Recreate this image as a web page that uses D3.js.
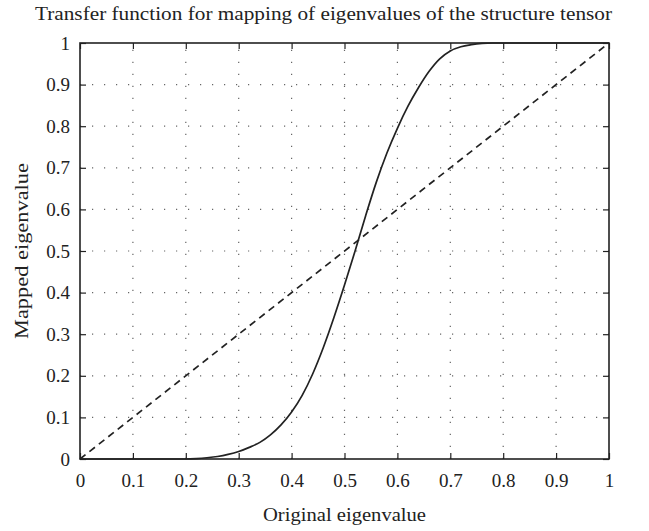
<!DOCTYPE html>
<html>
<head>
<meta charset="utf-8">
<script src="https://cdn.jsdelivr.net/npm/d3@7.9.0/dist/d3.min.js"></script>
<style>
  body { margin: 0; background: #fff; }
  text { font-family: "Liberation Serif", "DejaVu Serif", serif; fill: #222; }
</style>
</head>
<body>
<svg id="chart" width="649" height="531"></svg>
<script>
// values
const ticks = [0, 0.1, 0.2, 0.3, 0.4, 0.5, 0.6, 0.7, 0.8, 0.9, 1];
const tickLabels = ['0', '0.1', '0.2', '0.3', '0.4', '0.5', '0.6', '0.7', '0.8', '0.9', '1'];

const curveX = [0, 0.1, 0.2, 0.22, 0.24, 0.26, 0.28, 0.30, 0.32, 0.34, 0.36, 0.38, 0.40,
  0.42, 0.44, 0.46, 0.48, 0.50, 0.52, 0.54, 0.56, 0.58, 0.60, 0.62, 0.64, 0.66, 0.68,
  0.70, 0.72, 0.74, 0.76, 0.78, 0.80, 0.9, 1];
const curveY = [0, 0, 0, 0.001, 0.003, 0.006, 0.011, 0.018, 0.028, 0.040, 0.058, 0.082, 0.113,
  0.153, 0.205, 0.268, 0.340, 0.418, 0.500, 0.585, 0.665, 0.735, 0.795, 0.848, 0.893, 0.932, 0.962,
  0.981, 0.991, 0.996, 0.999, 1, 1, 1, 1];

const identityX = [0, 1];
const identityY = [0, 1];

const svg = d3.select('#chart');
const mLeft = 80, mRight = 609, mTop = 43, mBottom = 459;

const x = d3.scaleLinear().domain([0, 1]).range([mLeft, mRight]);
const y = d3.scaleLinear().domain([0, 1]).range([mBottom, mTop]);

// dotted grid
const grid = svg.append('g')
  .attr('stroke', '#666')
  .attr('stroke-width', 1.2)
  .attr('stroke-dasharray', '1.2,10.8');
ticks.slice(1, -1).forEach((t) => {
  grid.append('line')
    .attr('x1', x(t)).attr('x2', x(t))
    .attr('y1', mBottom).attr('y2', mTop);
  grid.append('line')
    .attr('x1', mLeft).attr('x2', mRight)
    .attr('y1', y(t)).attr('y2', y(t));
});

// axes, ticks inward on all four sides
const xAxis = d3.axisBottom(x).tickValues(ticks)
  .tickFormat((d, i) => tickLabels[i]).tickSizeInner(-6).tickSizeOuter(0).tickPadding(15);
const yAxis = d3.axisLeft(y).tickValues(ticks)
  .tickFormat((d, i) => tickLabels[i]).tickSizeInner(-6).tickSizeOuter(0).tickPadding(10);

svg.append('g').attr('transform', `translate(0,${mBottom})`).call(xAxis);
svg.append('g').attr('transform', `translate(${mLeft},0)`).call(yAxis);
svg.append('g').attr('transform', `translate(0,${mTop})`)
  .call(d3.axisTop(x).tickValues(ticks).tickFormat('').tickSizeInner(-6).tickSizeOuter(0));
svg.append('g').attr('transform', `translate(${mRight},0)`)
  .call(d3.axisRight(y).tickValues(ticks).tickFormat('').tickSizeInner(-6).tickSizeOuter(0));

svg.selectAll('.domain').remove();
svg.selectAll('.tick line').attr('stroke', '#222').attr('stroke-width', 1.2);
svg.selectAll('.tick text')
  .style('font-family', '"Liberation Serif", serif')
  .style('font-size', '19px')
  .attr('fill', '#222');

svg.append('rect')
  .attr('x', mLeft).attr('y', mTop)
  .attr('width', mRight - mLeft).attr('height', mBottom - mTop)
  .attr('fill', 'none').attr('stroke', '#222').attr('stroke-width', 1.6);

// lines
const line = d3.line()
  .x((d) => x(d[0]))
  .y((d) => y(d[1]))
  .curve(d3.curveMonotoneX);

svg.append('path')
  .datum(d3.zip(identityX, identityY))
  .attr('d', line)
  .attr('fill', 'none')
  .attr('stroke', '#222')
  .attr('stroke-width', 1.7)
  .attr('stroke-dasharray', '7,5');

svg.append('path')
  .datum(d3.zip(curveX, curveY))
  .attr('d', line)
  .attr('fill', 'none')
  .attr('stroke', '#222')
  .attr('stroke-width', 1.7);

// titles
svg.append('text')
  .attr('x', 35).attr('y', 20)
  .attr('textLength', 577)
  .attr('lengthAdjust', 'spacingAndGlyphs')
  .style('font-size', '19px')
  .text('Transfer function for mapping of eigenvalues of the structure tensor');

svg.append('text')
  .attr('x', 263).attr('y', 521)
  .attr('textLength', 163)
  .attr('lengthAdjust', 'spacingAndGlyphs')
  .style('font-size', '19px')
  .text('Original eigenvalue');

svg.append('text')
  .attr('transform', `translate(28,${(mTop + mBottom) / 2 + 88}) rotate(-90)`)
  .attr('textLength', 176)
  .attr('lengthAdjust', 'spacingAndGlyphs')
  .style('font-size', '19px')
  .text('Mapped eigenvalue');
</script>
</body>
</html>
